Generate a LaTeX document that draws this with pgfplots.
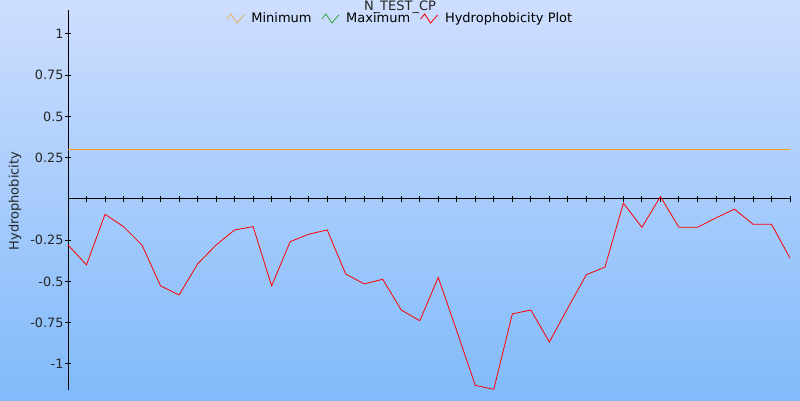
\documentclass[border=0pt]{standalone}
\usepackage{pgfplots}
\pgfplotsset{compat=1.18}
\usepackage{fontspec}
\setmainfont{DejaVu Sans}
\definecolor{bgtop}{RGB}{206,222,254}
\definecolor{bgbot}{RGB}{128,186,250}
\definecolor{minc}{RGB}{240,160,40}
\definecolor{maxc}{RGB}{0,150,0}
\begin{document}
\begin{tikzpicture}[x=1pt,y=1pt]
\useasboundingbox (0,0) rectangle (800,400);
\shade[top color=bgtop, bottom color=bgbot] (0,0) rectangle (800,400);
\begin{axis}[
  at={(68pt,10pt)}, anchor=south west,
  scale only axis, width=722pt, height=380pt,
  xmin=0, xmax=39, ymin=-1.158, ymax=1.145,
  axis x line=middle, axis y line=left,
  axis line style={-, black, line width=0.9pt},
  every inner x axis line/.append style={-},
  every outer y axis line/.append style={-},
  xtick={0,...,39}, xticklabels={},
  ytick={-1,-0.75,-0.5,-0.25,0.25,0.5,0.75,1},
  yticklabels={-1,-0.75,-0.5,-0.25,0.25,0.5,0.75,1},
  tick align=center, major tick length=6pt,
  tick style={black, line width=0.9pt},
  ticklabel style={font=\fontsize{12.8pt}{15pt}\selectfont, text=black!85},
  yticklabel style={xshift=2pt},
  clip=false,
  legend columns=3,
  legend style={at={(0.4605,0.9790)}, anchor=center, draw=none, fill=none,
    font=\fontsize{13pt}{15pt}\selectfont, /tikz/every even column/.append style={column sep=8pt},
    /tikz/every odd column/.append style={column sep=5pt}},
  legend image code/.code={\draw[#1] (0pt,-1pt) -- (4pt,4pt) -- (10pt,-5pt) -- (17pt,3pt);},
]
\addlegendimage{minc, line width=0.6pt}
\addlegendentry{Minimum}
\addlegendimage{maxc, line width=0.6pt}
\addlegendentry{Maximum}
\addplot[red, line width=0.8pt] coordinates {
(0,-0.279) (1,-0.400) (2,-0.093) (3,-0.168) (4,-0.280) (5,-0.527) (6,-0.582) (7,-0.394)
(8,-0.279) (9,-0.188) (10,-0.168) (11,-0.527) (12,-0.259) (13,-0.214) (14,-0.188) (15,-0.455)
(16,-0.515) (17,-0.487) (18,-0.673) (19,-0.738) (20,-0.476) (21,-0.800) (22,-1.130) (23,-1.154)
(24,-0.697) (25,-0.673) (26,-0.867) (27,-0.661) (28,-0.459) (29,-0.414) (30,-0.026) (31,-0.172)
(32,0.014) (33,-0.172) (34,-0.172) (35,-0.115) (36,-0.062) (37,-0.153) (38,-0.153) (39,-0.359)
};
\addlegendentry{Hydrophobicity Plot}
\addplot[minc, line width=0.6pt, forget plot] coordinates {(0,0.3) (39,0.3)};
\end{axis}
\node[rotate=90, font=\fontsize{13pt}{15pt}\selectfont, text=black!85] at (15,199) {Hydrophobicity};
\node[font=\fontsize{13pt}{15pt}\selectfont, text=black!85, anchor=base] at (400,389) {N\_TEST\_CP};
\end{tikzpicture}
\end{document}
